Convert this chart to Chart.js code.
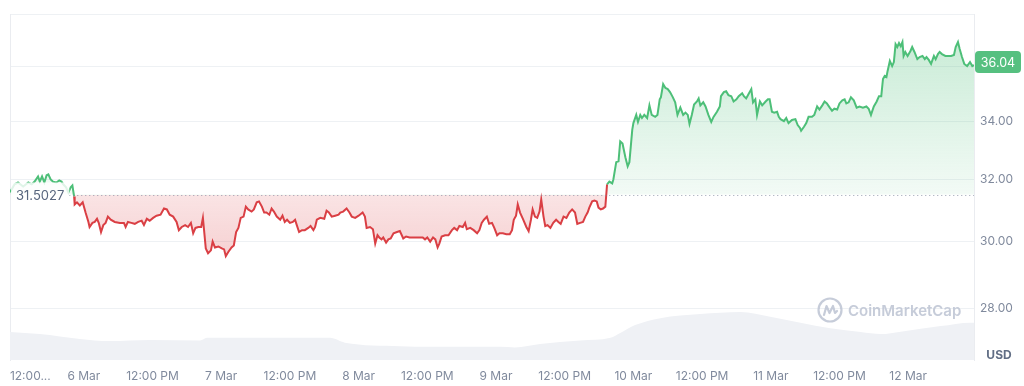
<!DOCTYPE html>
<html>
<head>
<meta charset="utf-8">
<script src="https://cdn.jsdelivr.net/npm/chart.js@4.4.1/dist/chart.umd.min.js"></script>
<style>
html,body{margin:0;padding:0;background:#ffffff;}
#wrap{width:1024px;height:386px;}
</style>
</head>
<body>
<div id="wrap"><canvas id="c" width="1024" height="386"></canvas></div>
<script>
// ---- data (hours relative to 6 Mar 00:00) ----
const priceHours = [
-12.9,-12.1,-11.5,-10.6,-9.7,-9.1,-8.6,-8.0,-7.7,-7.3,-6.9,-6.5,-6.2,-5.8,-5.4,-4.8,-4.3,-3.9,-3.6,-3.1,-2.7,-2.3,-2.0,-1.7,-1.6,-1.2,-0.7,-0.2,
0.3,0.8,1.0,1.5,1.9,2.3,2.6,3.0,3.4,3.8,4.2,4.7,5.4,6.3,7.0,7.3,7.7,8.3,8.9,9.5,10.1,10.5,11.0,11.5,12.1,12.7,13.4,14.0,14.5,15.0,
15.6,16.2,16.6,17.1,17.7,18.2,18.7,19.1,19.5,20.0,20.5,20.8,21.0,21.3,21.7,22.2,22.5,22.9,23.5,24.1,24.5,24.8,25.2,25.8,26.2,26.6,27.0,27.4,27.9,28.3,
28.7,29.3,29.7,30.2,30.6,31.1,31.5,31.9,32.4,32.8,33.2,33.7,34.3,34.7,35.1,35.5,36.0,36.5,36.9,37.2,37.6,38.1,38.6,39.2,39.6,40.1,40.4,40.7,41.3,42.0,
42.4,42.8,43.3,43.9,44.5,
44.8,45.3,45.9,46.4,46.8,47.4,48.0,48.7,49.1,49.4,50.0,50.5,50.9,51.3,51.6,52.0,52.3,52.8,53.2,53.6,54.1,54.7,55.2,55.8,56.3,56.9,57.5,58.0,58.6,59.2,
59.6,60.0,60.5,61.0,61.4,61.8,62.1,62.5,63.1,63.7,64.3,64.7,65.2,65.6,66.2,66.6,66.9,67.5,68.1,68.7,69.1,69.5,69.9,70.4,70.8,71.3,71.7,72.2,72.6,73.2,
73.8,74.4,74.8,75.1,75.5,75.8,76.2,76.7,77.3,77.7,78.1,78.4,78.8,79.2,79.6,79.9,80.3,80.6,81.0,81.5,82.0,82.5,82.9,83.3,83.8,84.3,84.8,85.3,85.8,86.2,
86.7,87.2,87.6,88.0,88.3,88.8,89.2,89.6,89.9,90.3,90.7,91.1,91.4,91.8,92.3,92.5,93.0,93.4,93.7,94.1,94.6,95.0,95.3,95.8,96.0,96.5,96.8,97.2,97.5,97.9,
98.4,98.8,99.2,99.8,100.2,100.6,100.8,101.2,101.6,102.0,102.4,102.9,103.3,103.7,104.2,
104.7,105.1,105.5,105.8,106.2,106.6,107.1,107.4,107.7,108.2,108.6,109.1,109.6,110.0,110.6,111.1,111.3,111.8,112.2,112.6,
113.1,113.5,114.0,114.4,115.0,115.3,115.7,116.1,116.6,116.9,117.3,117.6,118.1,118.5,119.1,119.5,119.8,120.2,120.6,121.1,
121.4,121.7,122.3,122.7,123.1,123.7,124.3,124.7,125.1,125.3,125.8,126.2,126.6,127.2,127.6,128.1,128.5,129.0,129.4,129.8,
130.3,130.7,131.1,131.6,132.0,132.5,132.9,133.2,133.6,134.0,134.5,135.0,135.5,136.1,136.7,137.1,137.5,138.0,138.5,138.9,
139.3,139.6,139.9,140.2,140.4,140.8,141.2,141.5,141.8,142.1,142.4,142.7,143.0,143.2,143.5,143.9,144.4,144.7,145.1,145.6,
146.0,146.5,146.9,147.2,147.6,148.0,148.5,148.8,149.2,149.5,149.9,150.5,151.1,151.5,152.0,152.3,152.7,153.0,153.4,153.8,
154.3,154.8,155.2,155.5
];
const prices = [
31.58,31.84,31.90,31.77,31.90,31.84,31.93,32.10,31.93,32.10,31.90,32.14,32.17,32.00,31.93,31.90,31.97,31.93,31.84,31.74,31.57,31.74,31.80,31.44,31.18,31.25,31.15,31.25,
30.92,30.62,30.46,30.59,30.62,30.72,30.59,30.30,30.52,30.59,30.79,30.69,30.62,30.59,30.59,30.46,30.62,30.59,30.56,30.62,30.66,30.52,30.72,30.66,30.75,30.82,30.85,31.05,31.02,30.85,
30.79,30.62,30.36,30.46,30.52,30.46,30.59,30.26,30.43,30.46,30.46,30.75,30.36,29.79,29.64,29.73,30.00,29.82,29.85,29.79,29.76,29.55,29.67,29.82,29.88,30.30,30.43,30.75,30.79,31.11,
31.02,30.95,31.02,31.25,31.28,31.11,30.92,30.92,30.85,31.05,30.95,30.79,30.69,30.82,30.62,30.69,30.59,30.62,30.69,30.52,30.30,30.36,30.36,30.43,30.49,30.36,30.46,30.69,30.75,30.72,
30.98,30.92,30.79,30.82,30.85,
30.92,30.95,31.05,30.92,30.79,30.75,30.82,30.92,30.79,30.43,30.46,30.39,29.94,30.20,30.13,30.07,30.13,29.97,30.07,30.10,30.26,30.30,30.33,30.10,30.16,30.13,30.13,30.13,30.13,30.13,
30.07,30.13,30.00,30.13,30.07,29.82,29.94,30.16,30.20,30.20,30.36,30.43,30.36,30.49,30.46,30.59,30.39,30.43,30.36,30.26,30.36,30.59,30.69,30.79,30.56,30.59,30.43,30.20,30.26,30.26,
30.23,30.23,30.36,30.69,30.82,31.18,30.92,30.72,30.46,30.33,30.69,31.02,30.79,30.75,30.95,31.34,30.79,30.49,30.52,30.43,30.59,30.69,30.62,30.56,30.79,30.75,30.92,31.02,30.92,30.56,
30.59,30.62,30.79,30.92,31.08,31.28,31.31,31.28,31.08,31.02,31.05,31.11,31.84,31.93,31.87,32.00,32.58,32.61,33.29,33.22,32.75,32.44,32.58,33.69,33.93,34.22,33.97,34.22,34.11,34.22,
34.11,34.56,34.22,34.15,34.22,34.78,34.85,35.33,35.19,35.15,35.04,34.85,34.67,34.22,34.48,
34.22,34.30,34.22,33.90,34.22,34.59,34.70,34.81,34.56,34.67,34.52,34.22,33.97,34.15,34.33,34.52,34.89,35.04,35.07,34.93,
34.89,34.70,34.78,34.89,35.00,34.89,34.81,34.96,35.15,34.67,34.78,34.22,34.70,34.56,34.70,34.78,34.78,34.33,34.30,34.33,
34.15,34.07,34.00,34.11,33.93,34.04,34.07,33.86,33.76,33.66,33.80,33.93,34.15,34.15,34.22,34.52,34.41,34.56,34.70,34.63,
34.48,34.37,34.44,34.41,34.63,34.74,34.78,34.63,34.67,34.85,34.74,34.48,34.52,34.48,34.52,34.44,34.22,34.52,34.70,34.89,
34.89,35.52,35.63,35.59,35.81,36.19,36.00,36.15,36.83,36.72,36.87,36.75,36.91,36.38,36.53,36.38,36.57,36.72,36.53,36.26,
36.34,36.38,36.26,36.34,36.23,36.08,36.38,36.26,36.45,36.53,36.45,36.38,36.38,36.38,36.42,36.72,36.91,36.64,36.34,36.08,
36.00,36.15,36.00,36.04
];
const volumeHours = [-12.9,-7.7,-0.7,4.5,11.5,20.3,21.5,43.0,45.6,55.2,60.5,72.7,75.3,79.7,86.7,92.0,93.7,96.3,100.7,107.7,114.7,119.9,125.2,130.4,135.7,139.2,142.7,149.7,154.9,155.5];
const volumes = [8.1,7.5,6.1,5.5,5.8,5.6,6.4,6.4,5.0,4.0,3.8,3.8,3.6,4.6,5.6,6.4,7.8,10.1,12.1,13.3,13.9,12.5,10.8,9.2,8.1,7.5,8.2,9.8,10.8,10.8];
const baseline = 31.5027;
const xTicks = [-12,0,12,24,36,48,60,72,84,96,108,120,132,144];
const xTickLabels = ['12:00...','6 Mar','12:00 PM','7 Mar','12:00 PM','8 Mar','12:00 PM','9 Mar','12:00 PM','10 Mar','12:00 PM','11 Mar','12:00 PM','12 Mar'];
const yTicks = [28,30,32,34,36,38];
const yTickLabels = ['28.00','30.00','32.00','34.00','36.00',''];
const xRange = [-12.9, 155.5];
const yRange = [26.53, 38];
const currencyLabel = 'USD';
const brandLabel = 'CoinMarketCap';

// ---- styles ----
const GREEN = '#4dbf78';
const RED = '#da3f44';
const GRID = '#eef1f4';
const TICK = '#808a9d';
const FONT = 'Inter, "Noto Sans", sans-serif';

function areaFill(context) {
  const chart = context.chart;
  const a = chart.chartArea;
  const ys = chart.scales && chart.scales.y;
  if (!a || !ys) return 'rgba(0,0,0,0)';
  const by = ys.getPixelForValue(baseline);
  const f = Math.min(Math.max((by - a.top) / (a.bottom - a.top), 0), 1);
  const g = chart.ctx.createLinearGradient(0, a.top, 0, a.bottom);
  g.addColorStop(0, 'rgba(79,191,122,0.34)');
  g.addColorStop(f, 'rgba(79,191,122,0.07)');
  g.addColorStop(f, 'rgba(218,63,68,0.14)');
  g.addColorStop(Math.min(f + 0.2, 1), 'rgba(218,63,68,0.25)');
  g.addColorStop(1, 'rgba(218,63,68,0.25)');
  return g;
}

const overlay = {
  id: 'overlay',
  afterDatasetsDraw(chart) {
    const {ctx, chartArea: a} = chart;
    const y = chart.scales.y;
    const by = Math.round(y.getPixelForValue(baseline)) + 0.5;
    ctx.save();
    ctx.font = '13px ' + FONT;
    const txt = baseline.toFixed(4);
    const w = ctx.measureText(txt).width;
    const bx = a.left + 1, bw = w + 10;
    // dotted baseline
    ctx.strokeStyle = 'rgba(128,138,157,0.8)';
    ctx.lineWidth = 1;
    ctx.setLineDash([1, 3]);
    ctx.beginPath();
    ctx.moveTo(bx + bw, by);
    ctx.lineTo(a.right, by);
    ctx.stroke();
    ctx.setLineDash([]);
    // label box
    ctx.fillStyle = 'rgba(255,255,255,0.82)';
    ctx.fillRect(bx, by - 13, bw, 24);
    ctx.fillStyle = '#58667e';
    ctx.textBaseline = 'middle';
    ctx.textAlign = 'left';
    ctx.fillText(txt, bx + 5, by + 1);

    // watermark
    const cx = a.right - 144, cy = a.bottom - 50;
    ctx.strokeStyle = 'rgba(188,195,210,0.85)';
    ctx.lineWidth = 2.2;
    ctx.lineJoin = 'round'; ctx.lineCap = 'round';
    ctx.beginPath(); ctx.arc(cx, cy, 11.5, 0, Math.PI * 2); ctx.stroke();
    ctx.beginPath();
    ctx.moveTo(cx - 6, cy + 5); ctx.lineTo(cx - 3.5, cy - 4); ctx.lineTo(cx - 0.5, cy + 3);
    ctx.lineTo(cx + 3, cy - 4); ctx.lineTo(cx + 5, cy + 3); ctx.lineTo(cx + 7, cy + 1);
    ctx.stroke();
    ctx.fillStyle = 'rgba(188,195,210,0.85)';
    ctx.font = '600 15px ' + FONT;
    ctx.textBaseline = 'middle';
    ctx.fillText(brandLabel, cx + 18, cy + 1);
    ctx.restore();
  },
  afterDraw(chart) {
    const {ctx, chartArea: a} = chart;
    const y = chart.scales.y;
    const last = prices[prices.length - 1];
    const ty = y.getPixelForValue(last) - 3;
    ctx.save();
    const tx = a.right + 1, tw = 46, th = 22, r = 4;
    ctx.fillStyle = '#56c080';
    ctx.beginPath();
    ctx.moveTo(tx + r, ty - th / 2);
    ctx.lineTo(tx + tw - r, ty - th / 2);
    ctx.quadraticCurveTo(tx + tw, ty - th / 2, tx + tw, ty - th / 2 + r);
    ctx.lineTo(tx + tw, ty + th / 2 - r);
    ctx.quadraticCurveTo(tx + tw, ty + th / 2, tx + tw - r, ty + th / 2);
    ctx.lineTo(tx + r, ty + th / 2);
    ctx.quadraticCurveTo(tx, ty + th / 2, tx, ty + th / 2 - r);
    ctx.lineTo(tx, ty - th / 2 + r);
    ctx.quadraticCurveTo(tx, ty - th / 2, tx + r, ty - th / 2);
    ctx.fill();
    ctx.fillStyle = '#ffffff';
    ctx.font = '12.5px ' + FONT;
    ctx.textAlign = 'center';
    ctx.textBaseline = 'middle';
    ctx.fillText(last.toFixed(2), tx + tw / 2, ty + 1);
    // currency label
    ctx.fillStyle = '#616e85';
    ctx.font = 'bold 12px ' + FONT;
    ctx.fillText(currencyLabel, a.right + 25, a.bottom - 5);
    ctx.restore();
  }
};

new Chart(document.getElementById('c'), {
  type: 'line',
  data: {
    datasets: [
      {
        label: 'Price',
        data: priceHours.map((h, i) => ({x: h, y: prices[i]})),
        yAxisID: 'y',
        borderColor: GREEN,
        borderWidth: 2,
        pointRadius: 0,
        tension: 0,
        fill: {value: baseline},
        backgroundColor: areaFill,
        segment: {
          borderColor: c => ((c.p0.parsed.y + c.p1.parsed.y) / 2 >= baseline ? GREEN : RED)
        },
        order: 0
      },
      {
        label: 'Volume',
        data: volumeHours.map((h, i) => ({x: h, y: volumes[i]})),
        yAxisID: 'y2',
        borderWidth: 0,
        borderColor: 'rgba(0,0,0,0)',
        backgroundColor: '#eff1f5',
        pointRadius: 0,
        cubicInterpolationMode: 'monotone',
        fill: 'start',
        order: 2
      }
    ]
  },
  options: {
    responsive: false,
    animation: false,
    layout: {padding: {left: 10, top: 14, right: 0, bottom: 0}},
    plugins: {legend: {display: false}, tooltip: {enabled: false}},
    scales: {
      x: {
        type: 'linear',
        bounds: 'data',
        min: xRange[0],
        max: xRange[1],
        grid: {display: false, drawTicks: false},
        border: {display: false},
        afterBuildTicks: s => { s.ticks = xTicks.map(v => ({value: v})); },
        afterFit: s => { s.height = 26; s.paddingLeft = 0; s.paddingRight = 0; },
        ticks: {
          autoSkip: false,
          maxRotation: 0,
          minRotation: 0,
          padding: 9,
          color: TICK,
          font: {family: FONT, size: 12},
          callback: (v, i) => (i === 0 ? '\u00a0\u00a0\u00a0\u00a0\u00a0\u00a0\u00a0\u00a0\u00a0' : '') + xTickLabels[i]
        }
      },
      y: {
        type: 'logarithmic',
        position: 'right',
        bounds: 'data',
        min: yRange[0],
        max: yRange[1],
        grid: {color: GRID, drawTicks: false},
        border: {display: true, color: '#eaecf0'},
        afterBuildTicks: s => { s.ticks = yTicks.map(v => ({value: v})); },
        afterFit: s => { s.width = 50; s.paddingTop = 0; s.paddingBottom = 0; },
        ticks: {
          padding: 6,
          color: TICK,
          font: {family: FONT, size: 12},
          callback: (v, i) => yTickLabels[i]
        }
      },
      y2: {
        type: 'linear',
        position: 'left',
        min: 0,
        max: 100,
        grid: {display: false, drawTicks: false},
        border: {display: true, color: '#eaecf0'},
        ticks: {display: false},
        afterFit: s => { s.width = 0; }
      }
    }
  },
  plugins: [overlay]
});
</script>
</body>
</html>
